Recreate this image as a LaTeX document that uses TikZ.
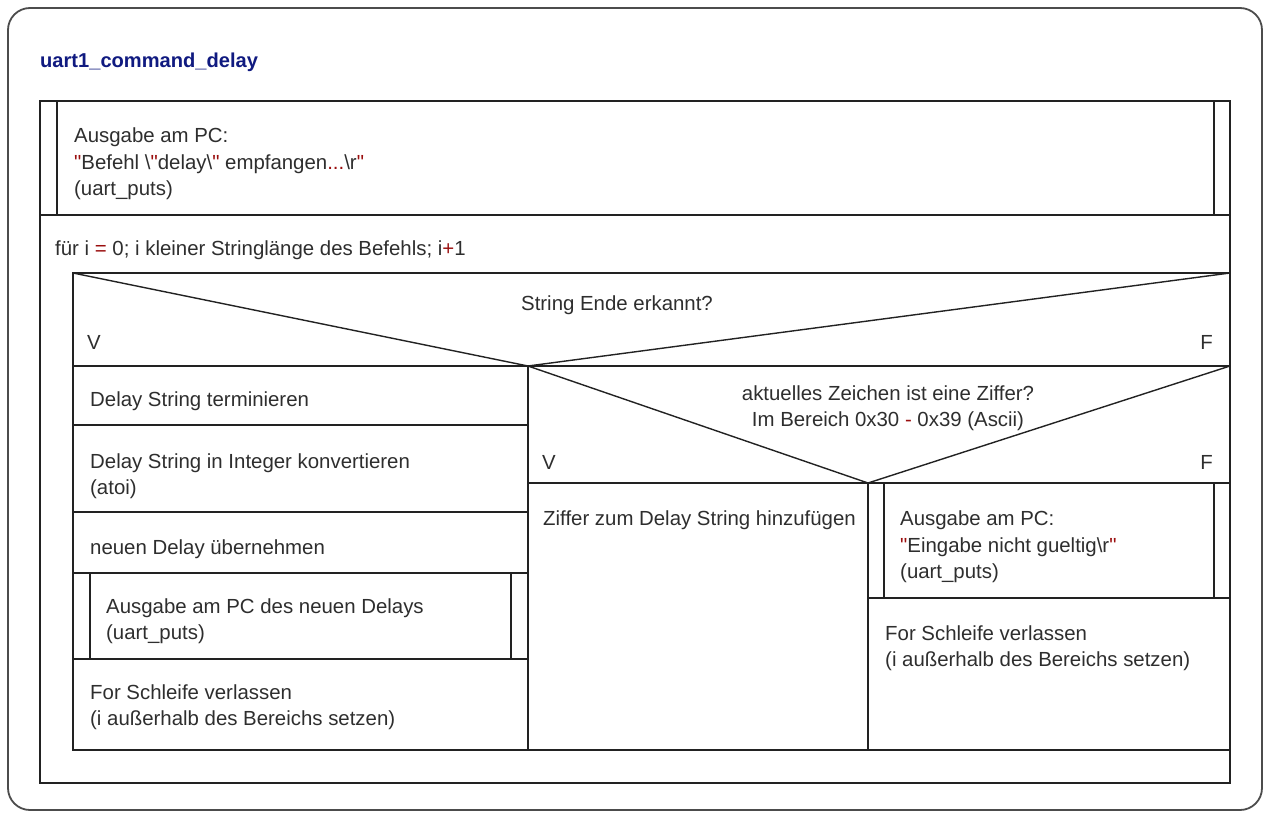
\documentclass[tikz,border=0pt]{standalone}
\usepackage{fontspec}
\setmainfont{Liberation Sans}
\definecolor{txtgray}{HTML}{2E2E2E}
\definecolor{qred}{HTML}{9A0E0E}
\definecolor{titleblue}{HTML}{101A80}
\definecolor{linec}{HTML}{222222}
\newcommand{\redq}{\textcolor{qred}{\textquotedbl}}
\begin{document}
\begin{tikzpicture}[x=1pt,y=-1pt,
  ln/.style={draw=linec,line width=1.4pt},
  txt/.style={anchor=west,inner sep=0pt,align=left,text=txtgray,font=\fontsize{20.4}{26.5}\selectfont},
  ctxt/.style={anchor=center,inner sep=0pt,align=center,text=txtgray,font=\fontsize{20.4}{26}\selectfont},
  rtxt/.style={anchor=east,inner sep=0pt,text=txtgray,font=\fontsize{20.4}{26.5}\selectfont}]
\useasboundingbox (0,0) rectangle (1266,814);
% outer frame
\draw[draw=black!70,line width=1.8pt,rounded corners=22pt] (8,8) rectangle (1262,810);
% title
\node[anchor=west,inner sep=0pt,text=titleblue,font=\fontsize{20.1}{24}\selectfont\bfseries] (title) at (40,62) {uart1\_command\_delay};
% main box
\draw[ln] (40,101) rectangle (1230,783);
% call block 1
\draw[ln] (40,215) -- (1230,215);
\draw[ln] (57,101) -- (57,215);
\draw[ln] (1214,101) -- (1214,215);
\node[txt] (call1) at (74,164) {Ausgabe am PC:\\\redq Befehl \textbackslash\redq delay\textbackslash\redq\ empfangen\textcolor{qred}{...}\textbackslash r\redq\\(uart\_puts)};
% for loop
\node[txt] (for) at (55,250) {für i \textcolor{qred}{=} 0; i kleiner Stringlänge des Befehls; i\textcolor{qred}{+}1};
\draw[ln] (1230,273) -- (73,273) -- (73,750) -- (1230,750);
% if 1
\draw[ln] (73,273) -- (528,366) -- (1230,273);
\draw[ln] (73,366) -- (1230,366);
\draw[ln] (528,366) -- (528,750);
\node[ctxt] (c1) at (617,305) {String Ende erkannt?};
\node[txt] (v1) at (87,342) {V};
\node[rtxt] (f1) at (1213,342) {F};
% left branch
\draw[ln] (73,425) -- (528,425);
\draw[ln] (73,512) -- (528,512);
\draw[ln] (73,573) -- (528,573);
\draw[ln] (73,659) -- (528,659);
\draw[ln] (90,573) -- (90,659);
\draw[ln] (511,573) -- (511,659);
\node[txt] (s1) at (90,401) {Delay String terminieren};
\node[txt] (s2) at (90,476) {Delay String in Integer konvertieren\\(atoi)};
\node[txt] (s3) at (90,549) {neuen Delay übernehmen};
\node[txt] (s4) at (106,621) {Ausgabe am PC des neuen Delays\\(uart\_puts)};
\node[txt] (s5) at (90,707) {For Schleife verlassen\\(i außerhalb des Bereichs setzen)};
% if 2
\draw[ln] (528,366) -- (868,483) -- (1230,366);
\draw[ln] (528,483) -- (1230,483);
\draw[ln] (868,483) -- (868,750);
\node[ctxt] (c2) at (888,408) {aktuelles Zeichen ist eine Ziffer?\\Im Bereich 0x30 \textcolor{qred}{-} 0x39 (Ascii)};
\node[txt] (v2) at (542,462) {V};
\node[rtxt] (f2) at (1213,462) {F};
\node[txt] (s6) at (543,520) {Ziffer zum Delay String hinzufügen};
% right call
\draw[ln] (868,598) -- (1230,598);
\draw[ln] (884,483) -- (884,598);
\draw[ln] (1214,483) -- (1214,598);
\node[txt] (s7) at (900,547) {Ausgabe am PC:\\\redq Eingabe nicht gueltig\textbackslash r\redq\\(uart\_puts)};
\node[txt] (s8) at (885,648) {For Schleife verlassen\\(i außerhalb des Bereichs setzen)};
\end{tikzpicture}
\end{document}
